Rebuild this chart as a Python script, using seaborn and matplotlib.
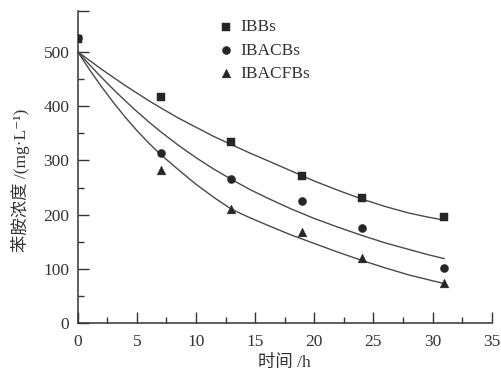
import numpy as np
import pandas as pd
import matplotlib
matplotlib.use("Agg")
import matplotlib.pyplot as plt
import seaborn as sns

# ---- data ----
series_names = ["IBBs", "IBACBs", "IBACFBs"]

t_ibbs = [0, 7, 13, 19, 24, 31]
c_ibbs = [524, 416, 333, 271, 230, 195]

t_ibacbs = [0, 7, 13, 19, 24, 31]
c_ibacbs = [525, 314, 266, 225, 175, 102]

t_ibacfbs = [7, 13, 19, 24, 31]
c_ibacfbs = [283, 210, 168, 120, 74]

# fitted curves
fit_t = [0, 1, 2, 3, 4, 5, 6, 7, 8.5, 10, 11.5, 13, 14.5, 16, 18, 20, 22, 24, 26, 28, 29.5, 31]
fit_ibbs = [500, 484, 468, 453, 438, 424, 410, 397, 378, 361, 344, 329, 314, 300, 281,
            262, 245, 229, 215, 203, 196, 190]
fit_ibacbs = [500, 476, 453, 431, 410, 390, 371, 353, 328, 305, 284, 265, 247, 231, 211,
              193, 177, 162, 148, 136, 127, 119]
fit_ibacfbs = [500, 467, 436, 407, 380, 355, 332, 311, 283, 256, 232, 210, 195, 181, 163,
               147, 131, 116, 102, 89, 81, 73]

x_ticks = [0, 5, 10, 15, 20, 25, 30, 35]
y_ticks = [0, 100, 200, 300, 400, 500]

sns.set_theme(style="ticks")
plt.rcParams["font.family"] = ["Liberation Serif", "Noto Sans CJK SC", "DejaVu Serif", "DejaVu Sans"]
plt.rcParams["axes.unicode_minus"] = False

pts = pd.concat([
    pd.DataFrame({"t": t_ibbs, "c": c_ibbs, "s": series_names[0]}),
    pd.DataFrame({"t": t_ibacbs, "c": c_ibacbs, "s": series_names[1]}),
    pd.DataFrame({"t": t_ibacfbs, "c": c_ibacfbs, "s": series_names[2]}),
], ignore_index=True)

fits = pd.concat([
    pd.DataFrame({"t": fit_t, "c": fit_ibbs, "s": series_names[0]}),
    pd.DataFrame({"t": fit_t, "c": fit_ibacbs, "s": series_names[1]}),
    pd.DataFrame({"t": fit_t, "c": fit_ibacfbs, "s": series_names[2]}),
], ignore_index=True)

fig = plt.figure(figsize=(5.02, 3.73), dpi=100)
ax = fig.add_axes([0.1548, 0.1332, 0.9795 - 0.1548, 0.9705 - 0.1332])

line_col = "#4a4a4a"
mark_col = "#262626"

sns.lineplot(data=fits, x="t", y="c", units="s", estimator=None, color=line_col,
             lw=1.0, ax=ax, legend=False)

markers = {"IBBs": "s", "IBACBs": "o", "IBACFBs": "^"}
sizes_map = {"IBBs": 26, "IBACBs": 34, "IBACFBs": 40}
for name in series_names:
    sub = pts[pts["s"] == name]
    sns.scatterplot(data=sub, x="t", y="c", marker=markers[name], s=sizes_map[name],
                    color=mark_col, edgecolor=mark_col, linewidth=0.3, ax=ax,
                    label=name, zorder=3)

ax.set_xlim(0, 35)
ax.set_ylim(0, 575)
ax.set_xticks(x_ticks)
ax.set_xticklabels([str(v) for v in x_ticks])
ax.set_yticks(y_ticks + [575])
ax.set_yticklabels([str(v) for v in y_ticks] + [""])
ax.set_xticks([2.5 + 5 * i for i in range(7)], minor=True)
ax.set_yticks([50 + 100 * i for i in range(5)], minor=True)

for sp in ["top", "right"]:
    ax.spines[sp].set_visible(False)
for sp in ["left", "bottom"]:
    ax.spines[sp].set_color("#333333")
    ax.spines[sp].set_linewidth(1.1)

ax.tick_params(axis="both", which="major", direction="in", length=8, width=1.0,
               color="#333333", labelsize=12.5, labelcolor="#333333")
ax.tick_params(axis="x", which="major", pad=8)
ax.tick_params(axis="y", which="major", pad=6)
ax.tick_params(axis="both", which="minor", direction="in", length=4.5, width=1.0,
               color="#333333")

ax.set_xlabel("时间 /h", fontsize=12.5, color="#333333", labelpad=3)
ax.set_ylabel("苯胺浓度 /(mg·L⁻¹)", fontsize=12.5, color="#333333")
ax.yaxis.set_label_coords(-0.115, 0.459)

leg = ax.legend(loc="upper left", bbox_to_anchor=(0.406, 0.991),
                bbox_transform=fig.transFigure, frameon=False, fontsize=12.5,
                handlelength=0.8, handletextpad=0.4, labelspacing=0.42,
                borderpad=0.4)
for txt in leg.get_texts():
    txt.set_color("#333333")

fig.savefig("out.png", dpi=100)
